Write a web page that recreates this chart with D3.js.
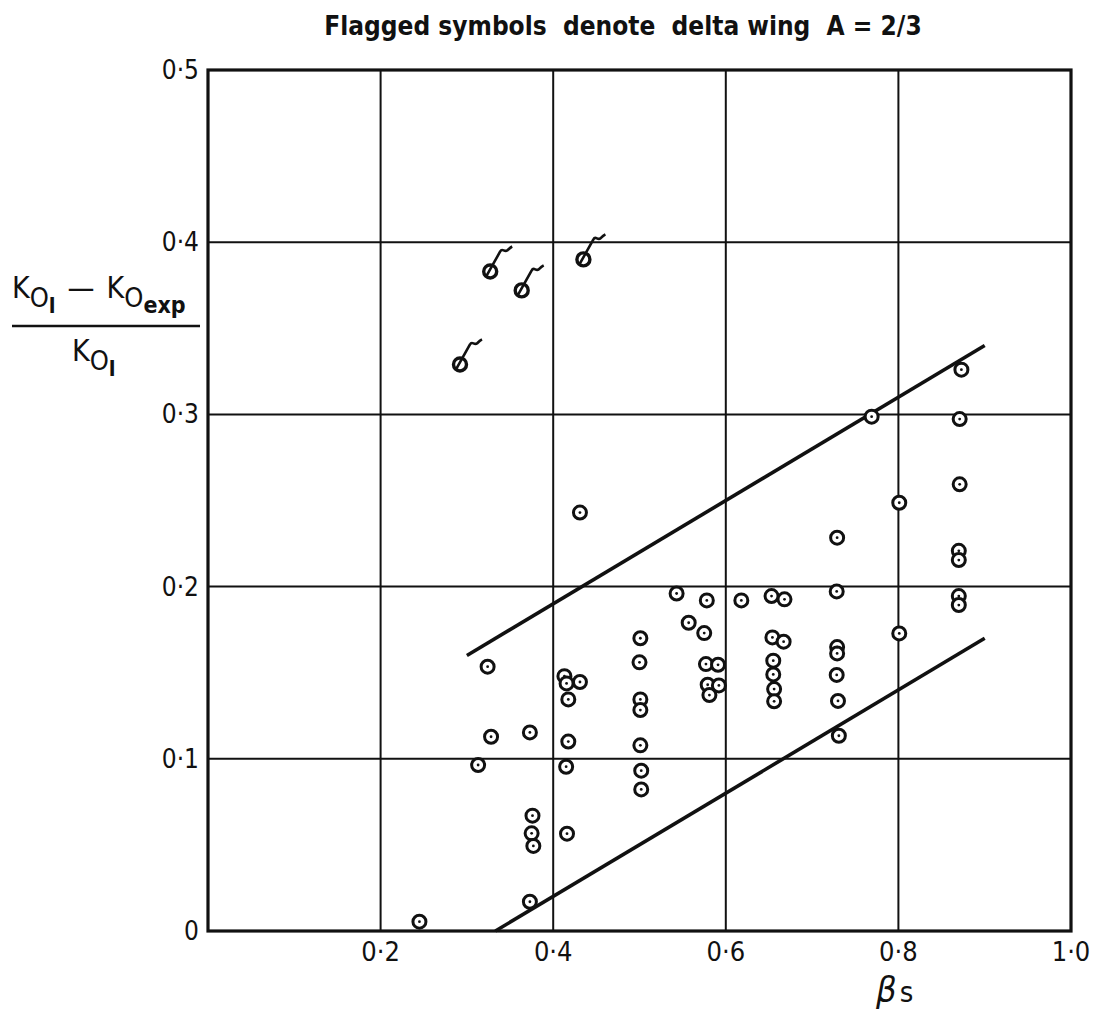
<!DOCTYPE html>
<html>
<head>
<meta charset="utf-8">
<script src="https://cdn.jsdelivr.net/npm/d3@7"></script>
<style>
  body { margin: 0; background: #fff; }
  text { font-family: "DejaVu Sans Condensed", "DejaVu Sans", sans-serif; fill: #111; }
</style>
</head>
<body>
<div id="chart"></div>
<script>
// plain symbols
const betaS = [0.431, 0.543, 0.578, 0.618, 0.653, 0.668, 0.557, 0.575, 0.501, 0.500,
  0.577, 0.591, 0.654, 0.667, 0.655, 0.655, 0.656, 0.656, 0.579, 0.592,
  0.581, 0.324, 0.413, 0.4155, 0.431, 0.4175, 0.501, 0.501, 0.501, 0.502,
  0.502, 0.328, 0.373, 0.4175, 0.313, 0.415, 0.376, 0.375, 0.377, 0.416,
  0.373, 0.245, 0.873, 0.769, 0.871, 0.871, 0.801, 0.729, 0.870, 0.870,
  0.7285, 0.870, 0.870, 0.801, 0.729, 0.729, 0.7285, 0.730, 0.731];
const ratio = [0.243, 0.196, 0.192, 0.192, 0.1945, 0.1926, 0.179, 0.173, 0.170, 0.156,
  0.155, 0.1546, 0.1705, 0.168, 0.157, 0.149, 0.1405, 0.1334, 0.143, 0.1426,
  0.137, 0.1535, 0.148, 0.1438, 0.1446, 0.1345, 0.1345, 0.1283, 0.1078, 0.0931,
  0.0822, 0.1128, 0.1153, 0.110, 0.0964, 0.0954, 0.067, 0.0567, 0.0494, 0.0565,
  0.017, 0.0054, 0.326, 0.2987, 0.2973, 0.2594, 0.2487, 0.2284, 0.2208, 0.2154,
  0.1972, 0.1945, 0.1893, 0.1728, 0.1649, 0.1612, 0.1487, 0.1336, 0.1134];

// flagged symbols (delta wing A = 2/3)
const flagBetaS = [0.327, 0.3635, 0.435, 0.292];
const flagRatio = [0.383, 0.372, 0.390, 0.329];

// boundary lines
const upperLine = [[0.30, 0.16], [0.90, 0.34]];
const lowerLine = [[0.333, 0.0], [0.90, 0.17]];

const xTicks = [0.2, 0.4, 0.6, 0.8, 1.0];
const yTicks = [0, 0.1, 0.2, 0.3, 0.4, 0.5];

const W = 1094, H = 1015;
const svg = d3.select("#chart").append("svg").attr("width", W).attr("height", H);

const x = d3.scaleLinear().domain([0, 1]).range([208, 1071]);
const y = d3.scaleLinear().domain([0, 0.5]).range([931, 70]);

const fmt = d => d === 0 ? "0" : d3.format(".1f")(d).replace(".", "·");

// grid
svg.append("g").selectAll("line").data(xTicks.slice(0, -1)).enter().append("line")
  .attr("x1", d => x(d)).attr("x2", d => x(d)).attr("y1", y(0)).attr("y2", y(0.5))
  .attr("stroke", "#111").attr("stroke-width", 2);
svg.append("g").selectAll("line").data(yTicks.slice(1, -1)).enter().append("line")
  .attr("y1", d => y(d)).attr("y2", d => y(d)).attr("x1", x(0)).attr("x2", x(1))
  .attr("stroke", "#111").attr("stroke-width", 2);

// frame
svg.append("rect").attr("x", x(0)).attr("y", y(0.5))
  .attr("width", x(1) - x(0)).attr("height", y(0) - y(0.5))
  .attr("fill", "none").attr("stroke", "#111").attr("stroke-width", 3.2);

// axes labels
svg.append("g").selectAll("text").data(yTicks).enter().append("text")
  .attr("x", 199).attr("y", d => y(d) + 9)
  .attr("text-anchor", "end").style("font-size", "26px").text(fmt);
svg.append("g").selectAll("text").data(xTicks).enter().append("text")
  .attr("x", d => x(d)).attr("y", 961)
  .attr("text-anchor", "middle").style("font-size", "27px").text(fmt);

// title
svg.append("text").attr("x", 623).attr("y", 35).attr("text-anchor", "middle")
  .style("font-size", "26px").style("font-weight", "bold").style("white-space", "pre")
  .text("Flagged symbols  denote  delta wing  A = 2/3");

// beta s
const bl = svg.append("text").attr("x", 876).attr("y", 1002).style("font-size", "36px");
bl.append("tspan").style("font-style", "italic").text("β");
bl.append("tspan").attr("dx", 3).style("font-size", "29px").text("s");

// y label as a fraction
const num = svg.append("text").attr("x", 12).attr("y", 298).style("font-size", "30px");
num.append("tspan").text("K");
num.append("tspan").attr("dy", 9).style("font-size", "27px").text("O");
num.append("tspan").attr("dy", 6).style("font-size", "22px").style("font-weight", "bold").text("l");
num.append("tspan").attr("dy", -15).attr("dx", 12).text("—");
num.append("tspan").attr("dx", 12).text("K");
num.append("tspan").attr("dy", 9).style("font-size", "27px").text("O");
num.append("tspan").attr("dy", 6).style("font-size", "23px").style("font-weight", "bold").text("exp");
svg.append("line").attr("x1", 12).attr("x2", 200).attr("y1", 326).attr("y2", 326)
  .attr("stroke", "#111").attr("stroke-width", 2.5);
const den = svg.append("text").attr("x", 72).attr("y", 361).style("font-size", "30px");
den.append("tspan").text("K");
den.append("tspan").attr("dy", 9).style("font-size", "27px").text("O");
den.append("tspan").attr("dy", 6).style("font-size", "22px").style("font-weight", "bold").text("l");

// boundary lines
const line = d3.line().x(d => x(d[0])).y(d => y(d[1]));
[upperLine, lowerLine].forEach(l => {
  svg.append("path").attr("d", line(l)).attr("fill", "none")
    .attr("stroke", "#111").attr("stroke-width", 3.6);
});

// plain circles
const pts = betaS.map((b, i) => [b, ratio[i]]);
const g = svg.append("g");
g.selectAll("circle.o").data(pts).enter().append("circle").attr("class", "o")
  .attr("cx", d => x(d[0])).attr("cy", d => y(d[1])).attr("r", 6.5)
  .attr("fill", "#fff").attr("stroke", "#111").attr("stroke-width", 3);
g.selectAll("circle.dot").data(pts).enter().append("circle").attr("class", "dot")
  .attr("cx", d => x(d[0])).attr("cy", d => y(d[1])).attr("r", 1.4).attr("fill", "#111");

// flagged circles
const fpts = flagBetaS.map((b, i) => [b, flagRatio[i]]);
const fg = svg.append("g").selectAll("g").data(fpts).enter().append("g")
  .attr("transform", d => `translate(${x(d[0])},${y(d[1])})`);
fg.append("circle").attr("r", 6.5).attr("fill", "#fff")
  .attr("stroke", "#111").attr("stroke-width", 3.4);
fg.append("path").attr("d", "M-4,5 L10,-20 C12,-24 14,-19 17,-21 C19,-23 20,-24 22,-25")
  .attr("fill", "none").attr("stroke", "#111").attr("stroke-width", 2.6);
</script>
</body>
</html>
